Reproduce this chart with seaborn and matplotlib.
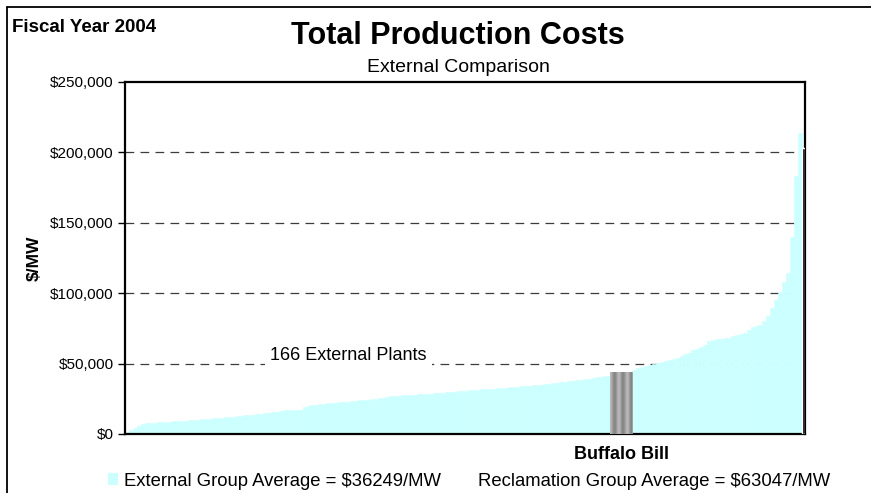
import numpy as np
import pandas as pd
import seaborn as sns
import matplotlib.pyplot as plt
from matplotlib.patches import Patch
from matplotlib.lines import Line2D

# external plants, sorted ($/MW)
ext_low = [1500, 2800, 4000, 5500, 6800, 7600, 7800, 8000, 8200, 8400,
           8600, 8800, 9000, 9100, 9300, 9400, 9600, 9800, 10100, 10400,
           10600, 10900, 11200, 11400, 11600, 11800, 12000, 12300, 12600, 12900,
           13200, 13500, 13800, 14100, 14400, 14700, 15100, 15500, 15900, 16300,
           16700, 17000, 17000, 17100, 17200, 19500, 20000, 20400, 20800, 21100,
           21400, 21800, 22100, 22300, 22600, 22800, 23000, 23300, 23600, 23800,
           24100, 24400, 24700, 25100, 25500, 25900, 26300, 26700, 27000, 27200,
           27400, 27600, 27800, 28000, 28100, 28300, 28400, 28600, 28800, 29000,
           29300, 29600, 29800, 30000, 30300, 30600, 30800, 31000, 31200, 31400,
           31600, 31800, 32000, 32300, 32500, 32700, 33000, 33200, 33500, 33700,
           33900, 34100, 34300, 34500, 34800, 35000, 35200, 35500, 35900, 36300,
           36700, 37100, 37500, 37900, 38200, 38500, 38800, 39200, 39700, 40200,
           40700, 41100, 41400]
ext_high = [45800, 46600, 47500, 48300, 49000, 50000, 50700, 51400, 52000, 52600,
            53200, 53700, 55300, 56500, 57800, 59300, 60500, 61600, 63500, 66000,
            67000, 67300, 67700, 68000, 68400, 69300, 70000, 70800, 71500, 74000,
            76300, 76800, 77500, 80300, 83500, 89500, 95500, 100500, 108000, 114000,
            140000, 183000, 214000]
buffalo_name = "Buffalo Bill"
buffalo_value = 44000
edge_value = 203000

yticks = [0, 50000, 100000, 150000, 200000, 250000]
ytick_labels = ["$0", "$50,000", "$100,000", "$150,000", "$200,000", "$250,000"]
ext_avg = 36249
rec_avg = 63047

cyan = "#CCFFFF"
buffalo_w = 5.5

sns.set_style("white")
plt.rcParams['font.family'] = ['Liberation Sans', 'DejaVu Sans']
plt.rcParams.update({"text.color": "black", "axes.labelcolor": "black",
                     "xtick.color": "black", "ytick.color": "black"})

n_low = len(ext_low)
pos_low = np.arange(n_low)
pos_buf = n_low + buffalo_w / 2 - 0.5
pos_high = n_low + buffalo_w + np.arange(len(ext_high))
ext = pd.DataFrame({"pos": np.concatenate([pos_low, pos_high]),
                    "cost": ext_low + ext_high})

fig = plt.figure(figsize=(8.71, 4.93), dpi=100)
ax = fig.add_axes([0.1435, 0.1197, 0.781, 0.714])

sns.barplot(data=ext, x="pos", y="cost", native_scale=True, width=1,
            color=cyan, saturation=1, edgecolor=cyan, linewidth=0.4, ax=ax,
            zorder=2)

# Buffalo Bill bar with a striped grey fill
bb = ax.bar(pos_buf, buffalo_value, width=buffalo_w, color="#A9A9A9",
            edgecolor="#999999", linewidth=0.6, zorder=3)[0]
stripes = 0.62 + 0.1 * np.cos(np.linspace(0, 5 * np.pi, 24))[None, :]
img = ax.imshow(stripes, cmap="gray", vmin=0, vmax=1, aspect="auto",
                extent=(pos_buf - buffalo_w / 2, pos_buf + buffalo_w / 2, 0, buffalo_value),
                zorder=3.5, interpolation="bilinear")
img.set_clip_path(bb)

ax.bar(pos_high[-1] + 0.9, edge_value, width=0.9, color="black", zorder=3)

for v in yticks[1:-1]:
    ax.axhline(v, color="#3c3c3c", lw=0.9, ls=(0, (7, 5)), zorder=1)

ax.set_xlim(-0.5, pos_high[-1] + 1.35)
ax.set_ylim(0, 250000)
ax.set_yticks(yticks)
ax.set_yticklabels(ytick_labels, fontsize=11)
ax.set_xticks([pos_buf])
ax.set_xticklabels([buffalo_name], fontsize=13, fontweight="bold")
ax.tick_params(axis="x", length=0, pad=9)
ax.tick_params(axis="y", length=5, width=1, direction="out", left=True, pad=3)
ax.set_xlabel("")
ax.set_ylabel("$/MW", fontsize=12.5, fontweight="bold", labelpad=6)
for s in ax.spines.values():
    s.set_visible(True)
    s.set_color("black")
    s.set_linewidth(1.6)

ax.text(0.3287, 52600, "166 External Plants", transform=ax.get_yaxis_transform(),
        ha="center", va="baseline", fontsize=13,
        bbox=dict(facecolor="white", edgecolor="none", pad=3.8), zorder=4)

fig.text(12 / 871, 1 - 32 / 493, "Fiscal Year 2004", fontsize=13.5,
         fontweight="bold", ha="left", va="baseline")
fig.text(458 / 871, 1 - 44 / 493, "Total Production Costs", fontsize=22,
         fontweight="bold", ha="center", va="baseline")
fig.text(458 / 871, 1 - 72 / 493, "External Comparison", fontsize=14,
         ha="center", va="baseline")

handles = [Patch(facecolor=cyan, edgecolor="none"),
           Patch(facecolor="none", edgecolor="none")]
labels = [f"External Group Average = ${ext_avg}/MW",
          f"Reclamation Group Average = ${rec_avg}/MW"]
fig.legend(handles, labels, loc="center left",
           bbox_to_anchor=(108 / 871, 1 - 481 / 493), ncol=2,
           frameon=False, fontsize=13.3, handlelength=0.55, handleheight=0.55,
           handletextpad=0.33, columnspacing=1.1, borderpad=0, borderaxespad=0)

fig.add_artist(Line2D([6.5 / 871, 6.5 / 871], [0, 1 - 6.5 / 493], color="black", lw=1.3))
fig.add_artist(Line2D([6.5 / 871, 1], [1 - 6.5 / 493, 1 - 6.5 / 493], color="black", lw=1.3))

fig.savefig("out.png", dpi=100)
